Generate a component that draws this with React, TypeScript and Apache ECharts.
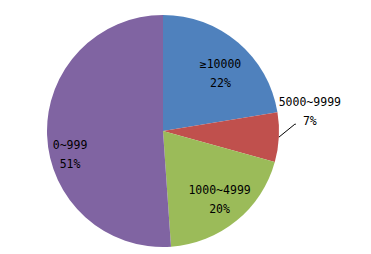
import React, { useEffect, useRef } from "react";
import * as echarts from "echarts";

const categories = ["≥10000", "5000~9999", "1000~4999", "0~999"];
const shares = [22.4, 6.9, 19.6, 51.1];
const colors = ["#4F81BD", "#C0504D", "#9BBB59", "#8064A2"];

// label nudges (style only), relative to library-computed label positions
const insideNudge: Record<number, [number, number]> = {
  0: [18, -11],
  2: [18, 21],
  3: [-32, 21],
};

export default function App() {
  const ref = useRef<HTMLDivElement>(null);
  useEffect(() => {
    if (!ref.current) return;
    const chart = echarts.init(ref.current, undefined, { renderer: "svg" });
    chart.setOption({
      animation: false,
      backgroundColor: "#ffffff",
      series: [
        {
          type: "pie",
          center: [163, 131],
          radius: 116,
          startAngle: 90,
          clockwise: true,
          avoidLabelOverlap: false,
          itemStyle: { borderWidth: 0 },
          emphasis: { disabled: true },
          label: {
            show: true,
            position: "inside",
            formatter: (p: any) => `${p.name}\n${Math.round(p.value)}%`,
            color: "#000",
            fontFamily: "DejaVu Sans Mono",
            fontSize: 11.5,
            lineHeight: 19,
            align: "center",
          },
          labelLine: { show: false },
          labelLayout: (params: any) => {
            const i = params.dataIndex;
            if (i === 1 && params.labelLinePoints) {
              const p0 = params.labelLinePoints[0];
              return {
                x: p0[0] + 31,
                y: p0[1] - 26,
                align: "center",
                verticalAlign: "middle",
                labelLinePoints: [
                  [p0[0], p0[1]],
                  [p0[0] + 16, p0[1] - 13],
                  [p0[0] + 17, p0[1] - 13],
                ],
              };
            }
            const n = insideNudge[i];
            if (n) return { dx: n[0], dy: n[1] };
            return {};
          },
          data: categories.map((name, i) => {
            const item: any = {
              name,
              value: shares[i],
              itemStyle: { color: colors[i] },
            };
            if (i === 1) {
              item.label = { position: "outside" };
              item.labelLine = {
                show: true,
                length: 8,
                length2: 8,
                lineStyle: { color: "#000", width: 1 },
              };
            }
            return item;
          }),
        },
      ],
    });
    return () => chart.dispose();
  }, []);
  return (
    <div
      ref={ref}
      style={{ position: "fixed", left: 0, top: 0, width: 371, height: 254 }}
    />
  );
}
